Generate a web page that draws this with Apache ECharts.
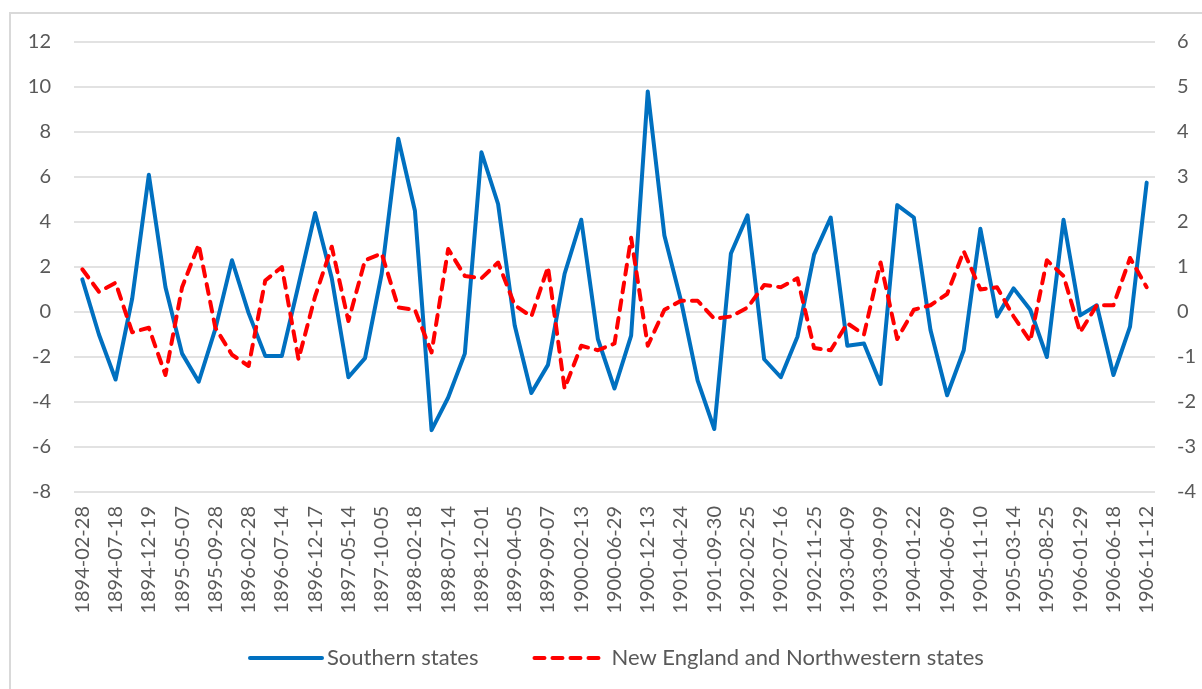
<!DOCTYPE html>
<html>
<head>
<meta charset="utf-8">
<title>Southern vs New England and Northwestern states</title>
<script src="https://cdn.jsdelivr.net/npm/echarts@6/dist/echarts.min.js"></script>
<style>
    html, body { margin: 0; padding: 0; background: #fff; }
    #main { width: 1202px; height: 689px; }
</style>
</head>
<body>
<div id="main"></div>
<script>
// call report dates, every other one gets a label
var dates = [
    '1894-02-28', '1894-05-04', '1894-07-18', '1894-10-02', '1894-12-19',
    '1895-03-05', '1895-05-07', '1895-07-11', '1895-09-28', '1895-12-13',
    '1896-02-28', '1896-05-07', '1896-07-14', '1896-10-06', '1896-12-17',
    '1897-03-09', '1897-05-14', '1897-07-23', '1897-10-05', '1897-12-15',
    '1898-02-18', '1898-05-05', '1898-07-14', '1898-09-20', '1898-12-01',
    '1899-02-04', '1899-04-05', '1899-06-30', '1899-09-07', '1899-12-02',
    '1900-02-13', '1900-04-26', '1900-06-29', '1900-09-05', '1900-12-13',
    '1901-02-05', '1901-04-24', '1901-07-15', '1901-09-30', '1901-12-10',
    '1902-02-25', '1902-04-30', '1902-07-16', '1902-09-15', '1902-11-25',
    '1903-02-06', '1903-04-09', '1903-06-09', '1903-09-09', '1903-11-17',
    '1904-01-22', '1904-03-28', '1904-06-09', '1904-09-06', '1904-11-10',
    '1905-01-11', '1905-03-14', '1905-05-29', '1905-08-25', '1905-11-09',
    '1906-01-29', '1906-04-06', '1906-06-18', '1906-09-04', '1906-11-12'
];

// left axis
var southern = [
    1.45, -1.0, -3.0, 0.6, 6.1, 1.1, -1.85, -3.1, -0.75, 2.3,
    -0.05, -1.95, -1.95, 1.2, 4.4, 1.5, -2.9, -2.05, 1.7, 7.7,
    4.5, -5.25, -3.8, -1.85, 7.1, 4.8, -0.6, -3.6, -2.35, 1.7,
    4.1, -1.2, -3.4, -1.05, 9.8, 3.4, 0.5, -3.05, -5.2, 2.6,
    4.3, -2.1, -2.9, -1.1, 2.55, 4.2, -1.5, -1.4, -3.2, 4.75,
    4.2, -0.8, -3.7, -1.7, 3.7, -0.2, 1.05, 0.1, -2.0, 4.1,
    -0.15, 0.3, -2.8, -0.65, 5.75
];

// right axis
var newEngland = [
    0.95, 0.45, 0.65, -0.45, -0.35, -1.4, 0.55, 1.5, -0.35, -0.95,
    -1.2, 0.7, 1.0, -1.05, 0.35, 1.45, -0.2, 1.15, 1.3, 0.1,
    0.05, -0.9, 1.4, 0.8, 0.75, 1.1, 0.15, -0.1, 1.0, -1.7,
    -0.75, -0.85, -0.7, 1.65, -0.75, 0.05, 0.25, 0.25, -0.15, -0.1,
    0.1, 0.6, 0.55, 0.75, -0.8, -0.85, -0.25, -0.5, 1.1, -0.6,
    0.05, 0.15, 0.4, 1.35, 0.5, 0.55, -0.1, -0.65, 1.15, 0.8,
    -0.45, 0.15, 0.15, 1.2, 0.55
];

var leftTicks = { min: -8, max: 12, interval: 2 };
var rightTicks = { min: -4, max: 6, interval: 1 };

var txt = '#595959';
var font = 'Lato, "Open Sans", sans-serif';

var app = echarts.init(document.getElementById('main'));

option = {
    animation: false,
    backgroundColor: '#fff',
    textStyle: { fontFamily: font },
    graphic: [{
        type: 'rect',
        shape: { x: 10, y: 13, width: 1200, height: 700 },
        style: { fill: 'none', stroke: '#d9d9d9', lineWidth: 2 },
        silent: true
    }],
    grid: {
        left: 74,
        right: 47,
        top: 42,
        bottom: 197
    },
    legend: {
        left: 243,
        top: 642,
        itemWidth: 72,
        itemHeight: 14,
        itemGap: 54,
        textStyle: { color: txt, fontSize: 22, fontFamily: font },
        // no marker on the legend line, just the stroke
        itemStyle: { color: 'rgba(0,0,0,0)', borderColor: 'rgba(0,0,0,0)', borderWidth: 0 },
        lineStyle: { width: 4 },
        data: ['Southern states', 'New England and Northwestern states']
    },
    xAxis: [{
        type: 'category',
        data: dates,
        boundaryGap: true,
        axisLine: { show: false },
        axisTick: { show: false },
        axisLabel: {
            interval: 1,
            rotate: 90,
            margin: 14,
            color: txt,
            fontSize: 20,
            fontFamily: font
        }
    }],
    yAxis: [{
        type: 'value',
        min: leftTicks.min,
        max: leftTicks.max,
        interval: leftTicks.interval,
        axisLine: { show: false },
        axisTick: { show: false },
        axisLabel: { color: txt, fontSize: 20, fontFamily: font, margin: 23 },
        splitLine: { lineStyle: { color: '#d9d9d9', width: 1.5 } }
    }, {
        type: 'value',
        min: rightTicks.min,
        max: rightTicks.max,
        interval: rightTicks.interval,
        axisLine: { show: false },
        axisTick: { show: false },
        axisLabel: { color: txt, fontSize: 20, fontFamily: font, margin: 22 },
        splitLine: { show: false }
    }],
    series: [{
        name: 'Southern states',
        type: 'line',
        yAxisIndex: 0,
        data: southern,
        symbol: 'none',
        color: '#0070c0',
        lineStyle: { color: '#0070c0', width: 4, join: 'round', cap: 'round' }
    }, {
        name: 'New England and Northwestern states',
        type: 'line',
        yAxisIndex: 1,
        data: newEngland,
        symbol: 'none',
        color: '#ff0000',
        lineStyle: { color: '#ff0000', width: 4, type: [10, 8], cap: 'round', join: 'round' }
    }]
};

app.setOption(option);
</script>
</body>
</html>
